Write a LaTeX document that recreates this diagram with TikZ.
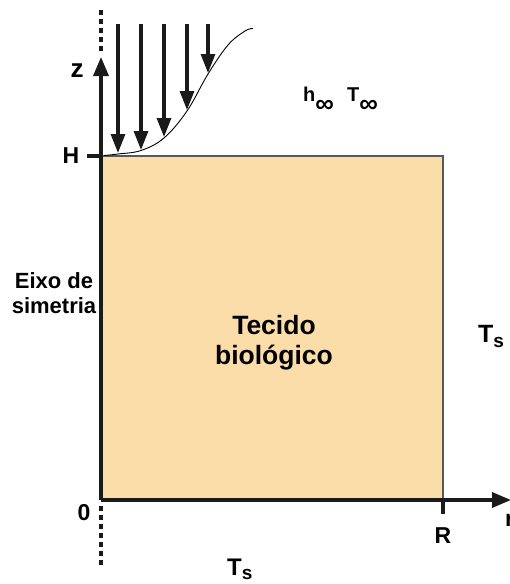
\documentclass[tikz,border=0pt]{standalone}
\usepackage{fontspec}
\setmainfont{Liberation Sans}
\usetikzlibrary{arrows.meta}
\definecolor{tissue}{HTML}{FBDDAA}
\definecolor{ink}{HTML}{1A1A1A}
\newcommand\lowsub[3]{\raisebox{-#2}{\fontsize{#1}{#1}\selectfont #3}}
\tikzset{
  axisline/.style={line width=3.4pt, draw=ink},
  dotline/.style={line width=3.2pt, draw=ink, dash pattern=on 4.5pt off 4.5pt},
  flowarrow/.style={line width=3.2pt, draw=ink, -{Triangle[length=19pt,width=14pt]}},
  lbl/.style={font=\bfseries\fontsize{23}{27}\selectfont, inner sep=0pt, text=black},
  biglbl/.style={font=\bfseries\fontsize{26.5}{30}\selectfont, inner sep=0pt, align=center, text=black},
  smalllbl/.style={font=\bfseries\fontsize{22}{24.5}\selectfont, inner sep=0pt, align=center, text=black}
}
\begin{document}
\begin{tikzpicture}[x=1pt,y=-1pt]
\useasboundingbox (0,0) rectangle (509,584);
% coordinates
\coordinate (O) at (101,500);
\coordinate (Htop) at (101,156);
\coordinate (RT) at (443,156);
\coordinate (RB) at (443,500);
\coordinate (ztip) at (101,57);
\coordinate (rtip) at (511,500);
% tissue
\fill[tissue] (Htop) rectangle (RB);
\draw[line width=1.5pt, draw=black!65] (Htop) -- (RT) -- (RB);
% symmetry dotted lines
\draw[dotline] (101,10) -- (101,54);
\draw[dotline] (101,506) -- (101,568);
% axes
\draw[axisline, -{Triangle[length=19pt,width=15pt]}] (O) -- (ztip);
\draw[axisline, -{Triangle[length=19pt,width=15pt]}] (O) -- (rtip);
% ticks
\draw[axisline] (87,156) -- (Htop);
\draw[axisline] (RB) -- (443,514);
% velocity profile curve
\draw[line width=0.9pt, black] plot[smooth, tension=0.6] coordinates {(104,155.5) (118,154) (141,150.5) (164,138) (187,111) (208,74) (228,45) (245,31) (253,28.5)};
% flow arrows
\foreach \x/\y [count=\i] in {118/153, 141/150, 164/137, 187/110, 208/73} {
  \coordinate (a\i s) at (\x,24);
  \coordinate (a\i e) at (\x,\y);
  \draw[flowarrow] (a\i s) -- (a\i e);
}
% labels
\node[lbl, font=\bfseries\fontsize{26}{30}\selectfont] (z) at (77,71) {z};
\node[lbl] (H) at (71,156) {H};
\node[lbl] (zero) at (84,513) {0};
\node[lbl] (R) at (443,536) {R};
\node[lbl, anchor=west] (r) at (505,520) {r};
\node[lbl, font=\bfseries\fontsize{20}{24}\selectfont, anchor=base west] (hinf) at (303,101) {h\lowsub{26}{11pt}{∞}};
\node[lbl, font=\bfseries\fontsize{20}{24}\selectfont, anchor=base west] (Tinf) at (347,101) {T\lowsub{26}{11pt}{∞}};
\node[smalllbl] (eixo) at (54,293) {Eixo de\\simetria};
\node[biglbl] (tecido) at (274,343) {Tecido\\biológico};
\node[lbl, font=\bfseries\fontsize{25}{28}\selectfont, anchor=base west] (Ts1) at (478,342) {T\lowsub{19}{5pt}{s}};
\node[lbl, font=\bfseries\fontsize{24}{28}\selectfont, anchor=base west] (Ts2) at (227,575) {T\lowsub{19}{4pt}{s}};
\end{tikzpicture}
\end{document}
